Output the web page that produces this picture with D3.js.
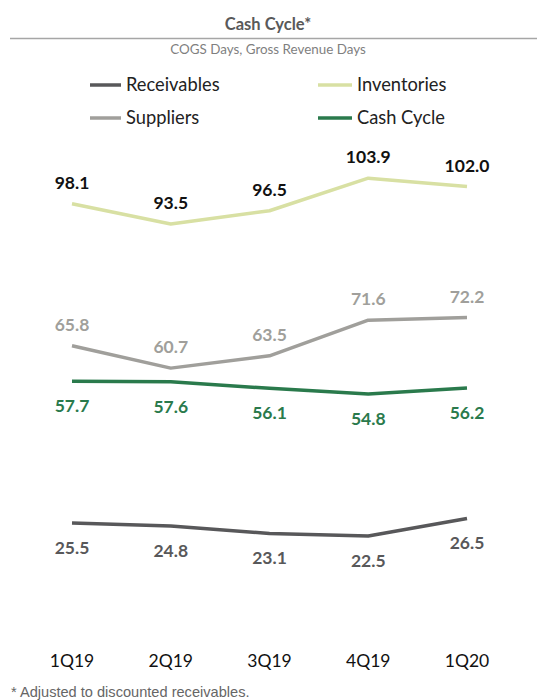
<!DOCTYPE html>
<html>
<head>
<meta charset="utf-8">
<script src="https://cdn.jsdelivr.net/npm/d3@7"></script>
<style>
  body { margin: 0; background: #fff; }
  text { font-family: Lato, "Open Sans", sans-serif; }
</style>
</head>
<body>
<div id="chart"></div>
<script>
var quarters = ["1Q19", "2Q19", "3Q19", "4Q19", "1Q20"];
var receivables = [25.5, 24.8, 23.1, 22.5, 26.5];
var inventories = [98.1, 93.5, 96.5, 103.9, 102.0];
var suppliers = [65.8, 60.7, 63.5, 71.6, 72.2];
var cashCycle = [57.7, 57.6, 56.1, 54.8, 56.2];

var width = 537, height = 700;

var series = [
    {name: "Receivables", values: receivables, color: "#58585a", label: "#58585a", pos: "below"},
    {name: "Inventories", values: inventories, color: "#d8e0a3", label: "#111111", pos: "above"},
    {name: "Suppliers", values: suppliers, color: "#a09f9b", label: "#a09f9b", pos: "above"},
    {name: "Cash Cycle", values: cashCycle, color: "#2a7a4c", label: "#2a7a4c", pos: "below"}
];

var svg = d3.select("#chart")
    .append("svg")
    .attr("width", width)
    .attr("height", height);

// title block
svg.append("text")
    .attr("x", 268)
    .attr("y", 30)
    .attr("text-anchor", "middle")
    .attr("font-size", "16.5px")
    .attr("font-weight", "bold")
    .attr("fill", "#595959")
    .text("Cash Cycle*");

svg.append("line")
    .attr("x1", 10).attr("x2", width)
    .attr("y1", 38.5).attr("y2", 38.5)
    .attr("stroke", "#a6a6a6")
    .attr("stroke-width", 1.5);

svg.append("text")
    .attr("x", 268)
    .attr("y", 54)
    .attr("text-anchor", "middle")
    .attr("font-size", "13.4px")
    .attr("fill", "#7f7f7f")
    .text("COGS Days, Gross Revenue Days");

var x = d3.scalePoint().domain(quarters).range([72, 467]);
var y = d3.scaleLinear().domain([0, 120]).range([635, 107.4]);

// legend
var legendPos = [[90, 85, 31], [318, 85, 34], [90, 118, 31], [318, 118, 34]];
var legend = svg.selectAll(".legend")
    .data(series)
    .enter()
    .append("g")
    .attr("class", "legend")
    .attr("transform", function(d, i){ return "translate(" + legendPos[i][0] + "," + legendPos[i][1] + ")"; });

legend.append("line")
    .attr("x1", 0).attr("x2", function(d, i){ return legendPos[i][2]; })
    .attr("y1", 0).attr("y2", 0)
    .attr("stroke", function(d){ return d.color; })
    .attr("stroke-width", 3.5);

legend.append("text")
    .attr("x", function(d, i){ return legendPos[i][2] + 5; })
    .attr("y", 6)
    .attr("font-size", "18.3px")
    .attr("fill", "#222")
    .text(function(d){ return d.name; });

// lines
var line = d3.line()
    .x(function(d, i){ return x(quarters[i]); })
    .y(function(d){ return y(d); });

var groups = svg.selectAll(".series")
    .data(series)
    .enter()
    .append("g")
    .attr("class", "series");

groups.append("path")
    .attr("d", function(d){ return line(d.values); })
    .attr("fill", "none")
    .attr("stroke", function(d){ return d.color; })
    .attr("stroke-width", 3.5)
    .attr("stroke-linejoin", "round");

groups.selectAll(".val")
    .data(function(d){ return d.values.map(function(v, i){ return {v: v, i: i, s: d}; }); })
    .enter()
    .append("text")
    .attr("class", "val")
    .attr("x", function(d){ return x(quarters[d.i]); })
    .attr("y", function(d){ return y(d.v) + (d.s.pos === "above" ? -15 : 31); })
    .attr("text-anchor", "middle")
    .attr("font-size", "17.5px")
    .attr("font-weight", "bold")
    .attr("fill", function(d){ return d.s.label; })
    .text(function(d){ return d3.format(".1f")(d.v); });

// x labels
svg.selectAll(".xlab")
    .data(quarters)
    .enter()
    .append("text")
    .attr("class", "xlab")
    .attr("x", function(d){ return x(d); })
    .attr("y", 667)
    .attr("text-anchor", "middle")
    .attr("font-size", "17.5px")
    .attr("fill", "#111")
    .text(function(d){ return d; });

svg.append("text")
    .attr("x", 11)
    .attr("y", 697)
    .attr("font-size", "14.6px")
    .attr("fill", "#666")
    .style("font-family", "'Liberation Sans', Arial, sans-serif")
    .text("* Adjusted to discounted receivables.");
</script>
</body>
</html>
